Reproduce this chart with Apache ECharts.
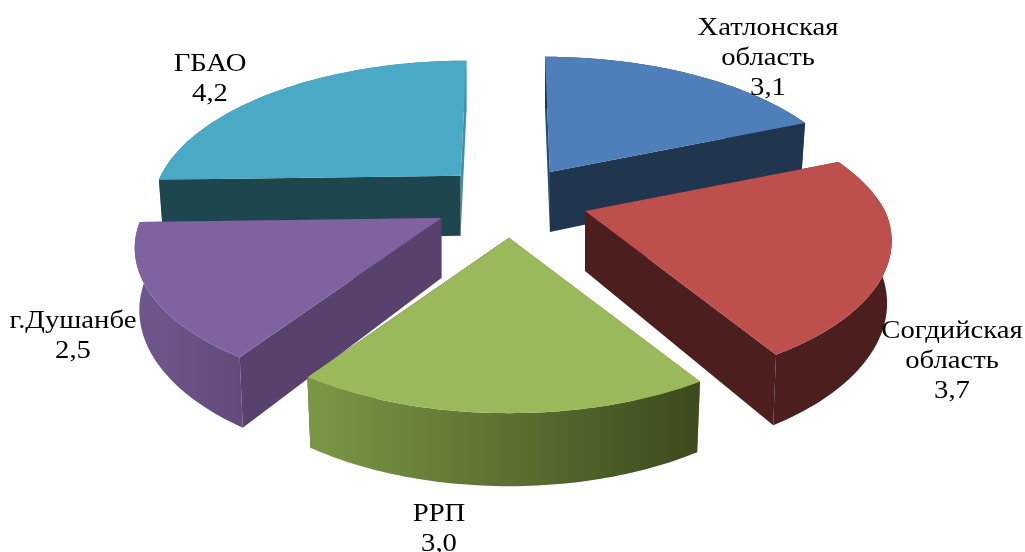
<!DOCTYPE html>
<html><head><meta charset="utf-8">
<style>html,body{margin:0;padding:0;background:#fff}#c{width:1025px;height:552px}</style>
<script src="https://cdn.jsdelivr.net/npm/echarts@6/dist/echarts.min.js"></script>
</head><body><div id="c"></div>
<script>
const categories = ['Хатлонская\nобласть','Согдийская\nобласть','РРП','г.Душанбе','ГБАО'];
const values = [3.1,3.7,3.0,2.5,4.2];
const explodeX = [0.98,1.066,0,1.03,0.9];
const explodeY = [0.92,0.85,0.97,0.92,0.95];
const drawOrder = [4,0,3,1,2];
const labelAnchors = [[768,58],[952,361],[439,529],[73,336],[210,79]];
const topColors = ['#4e7fba','#bd4f4c','#9ab95b','#7f62a0','#4aa9c4'];
const startWallColors = ['#2a4a75','#4d1e1e','#7a9645','#59416d','#1e464e'];
const endWallColors = ['#20364f','#4d1e1e','#3f4c20','#59416d','#3f90a6'];
const outerStops = [['#20364f','#20364f'],['#4d1e1e','#4d1e1e'],['#7b9846','#3d4a1e'],['#70588f','#634a7c'],['#3f90a6','#3f90a6']];

const CX=509, CY=201, RX=300, KY=139, PERSP=0.207, DEPTH=60, SHRINK=0.985, EX=75, EY=38, LEAN=0.7;
const total = values.reduce((a,b)=>a+b,0);
function sliceAngles(i){
  let s=0; for(let k=0;k<i;k++) s+=values[k];
  return [s/total*2*Math.PI,(s+values[i])/total*2*Math.PI];
}
function project(th,r,ax,ay,low){
  const X=r*Math.sin(th), Y=-r*Math.cos(th), s=1/(1-PERSP*Y);
  const k=low?SHRINK:1;
  const lean=(ax-CX)*LEAN*(Math.min(s,1)-1);
  return [ax+lean+RX*X*s*k, ay+KY*Y*s*k+(low?DEPTH*s:0)];
}
const chart=echarts.init(document.getElementById('c'),null,{renderer:'canvas'});
function renderSlice(params,api){
  const i=api.value(1);
  const [a0,a1]=sliceAngles(i), m=(a0+a1)/2;
  const ax=CX+EX*explodeX[i]*Math.sin(m), ay=CY-EY*explodeY[i]*Math.cos(m);
  const topArc=[],lowArc=[];
  const n=60;
  for(let j=0;j<=n;j++){
    const t=a0+(a1-a0)*j/n;
    topArc.push(project(t,1,ax,ay,false));
    lowArc.push(project(t,1,ax,ay,true));
  }
  const A=project(0,0,ax,ay,false), B=project(0,0,ax,ay,true);
  const poly=(pts,fill)=>({type:'polygon',shape:{points:pts},style:{fill:fill,stroke:null},silent:true});
  const startWall=poly([A,topArc[0],lowArc[0],B],startWallColors[i]);
  const endWall=poly([A,topArc[n],lowArc[n],B],endWallColors[i]);
  const outer=poly(topArc.concat(lowArc.slice().reverse()),new echarts.graphic.LinearGradient(0,0,1,0,[
      {offset:0,color:outerStops[i][0]},{offset:1,color:outerStops[i][1]}]));
  const back=[],front=[];
  (Math.sin(a0)<-1e-6?front:back).push(startWall);
  (Math.sin(a1)>1e-6?front:back).push(endWall);
  return {type:'group',children:back.concat([outer],front,[poly([A].concat(topArc),topColors[i])])};
}
function renderLabel(params,api){
  const i=api.value(1);
  return {type:'text',silent:true,x:labelAnchors[i][0],y:labelAnchors[i][1],scaleX:1.148,style:{
    text:categories[i]+'\n'+values[i].toFixed(1).replace('.',','),
    x:0,y:0,align:'center',verticalAlign:'middle',
    fontFamily:'Liberation Serif',fontSize:25,lineHeight:30,fill:'#000'}};
}
chart.setOption({
  animation:false,backgroundColor:'#fff',
  series:[
    {type:'custom',coordinateSystem:'none',z:2,renderItem:renderSlice,data:drawOrder.map(i=>[values[i],i]),encode:{}},
    {type:'custom',coordinateSystem:'none',z:3,renderItem:renderLabel,data:drawOrder.map(i=>[values[i],i]),encode:{}}
  ]
});
</script></body></html>
